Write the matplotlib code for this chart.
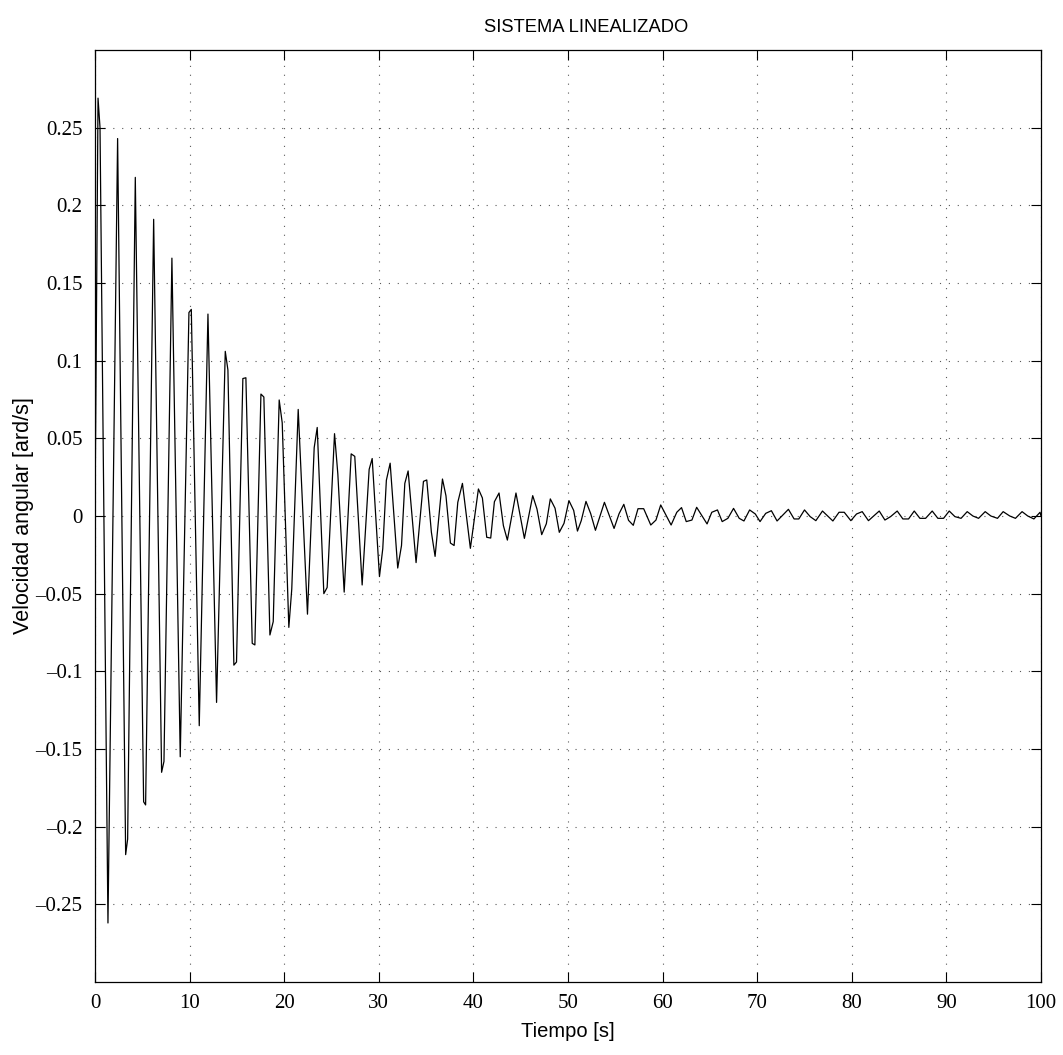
import matplotlib
matplotlib.use("Agg")
import matplotlib.pyplot as plt

# Vertices (time [s], angular velocity)
time_s = [0, 0.32, 0.53, 1.37, 2.39, 3.24, 3.45, 4.26, 5.14, 5.35, 6.2, 7.04, 7.29, 8.13,
          9.01, 9.93, 10.18, 11.02, 11.94, 12.85, 13.77, 14.05, 14.68, 14.96, 15.63, 15.95,
          16.62, 16.9, 17.54, 17.85, 18.49, 18.84, 19.47, 19.79, 20.49, 20.8, 21.48, 22.46,
          23.17, 23.49, 24.19, 24.54, 25.32, 25.67, 26.34, 27.08, 27.46, 28.24, 28.98, 29.3,
          30.07, 30.42, 30.8, 31.2, 32.0, 32.4, 32.75, 33.1, 33.94, 34.72, 35.07, 35.56,
          35.95, 36.73, 37.1, 37.57, 37.96, 38.35, 38.84, 39.68, 40.53, 40.95, 41.41, 41.83,
          42.22, 42.71, 43.17, 43.59, 44.5, 45.39, 46.27, 46.72, 47.22, 47.71, 48.13, 48.63,
          49.08, 49.58, 50.1, 50.6, 51.0, 51.4, 51.9, 52.4, 52.9, 53.85, 54.87, 55.4, 55.9,
          56.4, 56.9, 57.4, 58.0, 58.75, 59.3, 59.8, 60.9, 61.5, 62.0, 62.5, 63.1, 63.6,
          64.7, 65.2, 65.8, 66.3, 66.9, 67.5, 68.1, 68.6, 69.2, 69.8, 70.3, 70.9, 71.5,
          72.1, 73.3, 73.9, 74.4, 75.0, 75.6, 76.2, 76.9, 78.0, 78.65, 79.2, 79.9, 80.5,
          81.1, 81.76, 82.9, 83.5, 84.1, 84.8, 85.4, 86.0, 86.6, 87.2, 87.8, 88.5, 89.1,
          89.7, 90.3, 90.9, 91.55, 92.2, 92.8, 93.4, 94.1, 94.7, 95.4, 96.0, 96.7, 97.3,
          98.0, 98.6, 99.25, 99.9, 100]
velocity = [0.0, 0.269, 0.250, -0.262, 0.243, -0.218, -0.208, 0.218, -0.184, -0.186, 0.191,
            -0.165, -0.158, 0.166, -0.155, 0.131, 0.133, -0.135, 0.130, -0.120, 0.106, 0.094,
            -0.096, -0.094, 0.0885, 0.089, -0.082, -0.083, 0.0785, 0.0766, -0.0766, -0.068,
            0.0747, 0.060, -0.0717, -0.047, 0.0686, -0.0632, 0.044, 0.057, -0.050, -0.046,
            0.053, 0.027, -0.049, 0.040, 0.0384, -0.0444, 0.030, 0.037, -0.039, -0.021,
            0.023, 0.034, -0.0335, -0.019, 0.021, 0.029, -0.030, 0.0223, 0.0232, -0.0105,
            -0.026, 0.0238, 0.013, -0.0174, -0.019, 0.0088, 0.021, -0.0208, 0.0174, 0.0116,
            -0.0137, -0.0142, 0.0092, 0.0148, -0.0062, -0.0155, 0.0148, -0.0144, 0.0131,
            0.0045, -0.012, -0.005, 0.011, 0.005, -0.0105, -0.0047, 0.0099, 0.0036, -0.0097,
            -0.003, 0.0094, 0.0015, -0.0092, 0.0088, -0.008, 0.0015, 0.0075, -0.0028, -0.006,
            0.0047, 0.0047, -0.0058, -0.0026, 0.0071, -0.0058, 0.0024, 0.0054, -0.0036,
            -0.0026, 0.0056, -0.0051, 0.0024, 0.0039, -0.0036, -0.0015, 0.0049, -0.0015,
            -0.0032, 0.0039, 0.0013, -0.0036, 0.0017, 0.0034, -0.0032, 0.0043, -0.0019,
            -0.0019, 0.0039, -0.0004, -0.003, 0.0032, -0.0032, 0.0024, 0.0024, -0.003,
            0.0013, 0.0028, -0.003, 0.0032, -0.0026, -0.0004, 0.0032, -0.0019, -0.0019,
            0.0032, -0.0015, -0.0015, 0.0032, -0.0015, -0.0015, 0.0032, -0.0004, -0.0015,
            0.0028, 0.0, -0.0015, 0.0028, 0.0, -0.0015, 0.0028, 0.0, -0.0015, 0.0028, 0.0,
            -0.0019, 0.0024, 0.0]

x_ticks = [0, 10, 20, 30, 40, 50, 60, 70, 80, 90, 100]
y_ticks = [-0.25, -0.2, -0.15, -0.1, -0.05, 0, 0.05, 0.1, 0.15, 0.2, 0.25]
y_tick_labels = ["\u20130.25", "\u20130.2", "\u20130.15", "\u20130.1", "\u20130.05", "0",
                 "0.05", "0.1", "0.15", "0.2", "0.25"]

W, H = 1063, 1055
fig = plt.figure(figsize=(W / 100, H / 100), dpi=100)
ax = fig.add_axes([95 / W, 1 - 982 / H, (1041 - 95) / W, (982 - 50) / H])

ax.plot(time_s, velocity, color="black", linewidth=0.9)

ax.set_xlim(0, 100)
ax.set_ylim(-0.3, 0.3)
ax.set_xticks(x_ticks)
ax.set_yticks(y_ticks)
ax.set_xticklabels([str(v) for v in x_ticks])
ax.set_yticklabels(y_tick_labels)

for lab in ax.get_xticklabels() + ax.get_yticklabels():
    lab.set_fontfamily("Liberation Serif")
    lab.set_fontsize(15)

ax.tick_params(direction="in", length=7, width=0.8, top=True, right=True, pad=9)
for sp in ax.spines.values():
    sp.set_linewidth(0.9)

ax.grid(True, color="0.35", linestyle=(0, (1, 7)), linewidth=0.8)

fig.text(586 / W, 1 - 28 / H, "SISTEMA LINEALIZADO", fontfamily="Liberation Sans",
         fontsize=13.2, ha="center", va="center")
ax.set_xlabel("Tiempo [s]", fontfamily="Liberation Sans", fontsize=14.5, labelpad=6)
ax.set_ylabel("Velocidad angular [ard/s]", fontfamily="Liberation Sans", fontsize=15.5,
              va="center")
ax.yaxis.set_label_coords(-(95 - 24) / 946, 0.5)

fig.savefig("out.png", dpi=100)
